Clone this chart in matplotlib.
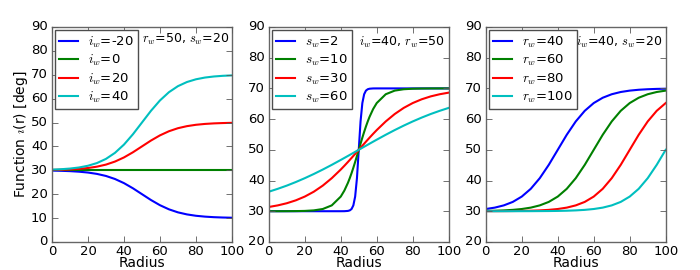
"""
Three panels of the warp function i(r): varying i_w, s_w and r_w.
"""
import matplotlib
matplotlib.use("Agg")
import matplotlib.pyplot as plt

plt.style.use("classic")

# radius samples
radius = [0, 5, 10, 15, 20, 25, 30, 35, 40, 45, 50,
          55, 60, 65, 70, 75, 80, 85, 90, 95, 100]
radius_mid = [0, 5, 10, 15, 20, 25, 30, 35, 40, 42, 44, 45, 46, 47, 48, 49, 50,
              51, 52, 53, 54, 55, 56, 58, 60, 65, 70, 75, 80, 85, 90, 95, 100]

# panel 1: r_w=50, s_w=20
iw_labels = ["-20", "0", "20", "40"]
iw_curves = [
    [29.87, 29.78, 29.64, 29.41, 29.05, 28.48, 27.62, 26.35, 24.62, 22.45, 20.00,
     17.55, 15.38, 13.65, 12.38, 11.52, 10.95, 10.59, 10.36, 10.22, 10.13],
    [30.0] * 21,
    [30.13, 30.22, 30.36, 30.59, 30.95, 31.52, 32.38, 33.65, 35.38, 37.55, 40.00,
     42.45, 44.62, 46.35, 47.62, 48.48, 49.05, 49.41, 49.64, 49.78, 49.87],
    [30.27, 30.44, 30.72, 31.17, 31.90, 33.03, 34.77, 37.30, 40.76, 45.10, 50.00,
     54.90, 59.24, 62.70, 65.23, 66.96, 68.10, 68.83, 69.28, 69.56, 69.73],
]

# panel 2: i_w=40, r_w=50
sw_labels = ["2", "10", "30", "60"]
sw_curves = [
    [30.00, 30.00, 30.00, 30.00, 30.00, 30.00, 30.00, 30.00, 30.00, 30.01, 30.10,
     30.27, 30.72, 31.90, 34.77, 40.76, 50.00, 59.24, 65.23, 68.10, 69.28, 69.73,
     69.90, 69.99, 70.00, 70.00, 70.00, 70.00, 70.00, 70.00, 70.00, 70.00, 70.00],
    [30.00, 30.00, 30.01, 30.04, 30.10, 30.27, 30.72, 31.90, 34.77, 36.72, 39.26,
     40.76, 42.40, 44.17, 46.05, 48.01, 50.00, 51.99, 53.95, 55.83, 57.60, 59.24,
     60.74, 63.28, 65.23, 68.10, 69.28, 69.73, 69.90, 69.96, 69.99, 70.00, 70.00],
    [31.38, 31.90, 32.60, 33.54, 34.77, 36.35, 38.34, 40.76, 43.57, 44.79, 46.05,
     46.70, 47.35, 48.01, 48.67, 49.33, 50.00, 50.67, 51.33, 51.99, 52.65, 53.30,
     53.95, 55.21, 56.43, 59.24, 61.66, 63.65, 65.23, 66.46, 67.40, 68.10, 68.62],
    [36.35, 37.30, 38.34, 39.50, 40.76, 42.12, 43.57, 45.10, 46.70, 47.35, 48.01,
     48.34, 48.67, 49.00, 49.33, 49.67, 50.00, 50.33, 50.67, 51.00, 51.33, 51.66,
     51.99, 52.65, 53.30, 54.90, 56.43, 57.88, 59.24, 60.50, 61.66, 62.70, 63.65],
]

# panel 3: i_w=40, s_w=20
rw_labels = ["40", "60", "80", "100"]
rw_curves = [
    [30.72, 31.17, 31.90, 33.03, 34.77, 37.30, 40.76, 45.10, 50.00, 54.90, 59.24,
     62.70, 65.23, 66.96, 68.10, 68.83, 69.28, 69.56, 69.73, 69.84, 69.90],
    [30.10, 30.16, 30.27, 30.44, 30.72, 31.17, 31.90, 33.03, 34.77, 37.30, 40.76,
     45.10, 50.00, 54.90, 59.24, 62.70, 65.23, 66.96, 68.10, 68.83, 69.28],
    [30.01, 30.02, 30.04, 30.06, 30.10, 30.16, 30.27, 30.44, 30.72, 31.17, 31.90,
     33.03, 34.77, 37.30, 40.76, 45.10, 50.00, 54.90, 59.24, 62.70, 65.23],
    [30.00, 30.00, 30.00, 30.01, 30.01, 30.02, 30.04, 30.06, 30.10, 30.16, 30.27,
     30.44, 30.72, 31.17, 31.90, 33.03, 34.77, 37.30, 40.76, 45.10, 50.00],
]

colors = ["b", "g", "r", "c"]

panels = [
    (radius, iw_curves, r"$i_w$", iw_labels, r"$r_w$=50, $s_w$=20", (0, 90)),
    (radius_mid, sw_curves, r"$s_w$", sw_labels, r"$i_w$=40, $r_w$=50", (20, 90)),
    (radius, rw_curves, r"$r_w$", rw_labels, r"$i_w$=40, $s_w$=20", (20, 90)),
]

fig = plt.figure(figsize=(7.0, 2.7), dpi=100, facecolor="white")
lefts = [0.0743, 0.384, 0.694]
for left, (rr, curves, sym, labels, note, ylim) in zip(lefts, panels):
    ax = fig.add_axes([left, 0.104, 0.257, 0.796])
    for vals, lab, col in zip(curves, labels, colors):
        ax.plot(rr, vals, color=col, lw=1.5, label=f"{sym}={lab}")
    ax.set_xlim(0, 100)
    ax.set_ylim(*ylim)
    ax.set_xticks(range(0, 101, 20))
    ax.set_yticks(range(ylim[0], 91, 10))
    ax.tick_params(labelsize=9.5, direction="in", length=4, width=0.6, colors="0.35",
                   labelcolor="black")
    ax.tick_params(axis="x", pad=2)
    ax.tick_params(axis="y", pad=3)
    for sp in ax.spines.values():
        sp.set_color("0.4")
        sp.set_linewidth(1.0)
    ax.set_xlabel("Radius", fontsize=10, labelpad=-1)
    ax.text(50, 85, note, fontsize=9, ha="left", va="center")
    leg = ax.legend(loc="upper left", fontsize=9.5, borderaxespad=0.25,
                    handlelength=1.4, handletextpad=0.8, labelspacing=0.25,
                    borderpad=0.3, fancybox=False, shadow=False, numpoints=1)
    leg.get_frame().set_edgecolor("0.3")
    leg.get_frame().set_linewidth(1.0)
    if left == lefts[0]:
        ax.set_ylabel(r"Function $\imath$(r) [deg]", fontsize=10, labelpad=1)

fig.savefig("out.png", dpi=100, facecolor="white")
